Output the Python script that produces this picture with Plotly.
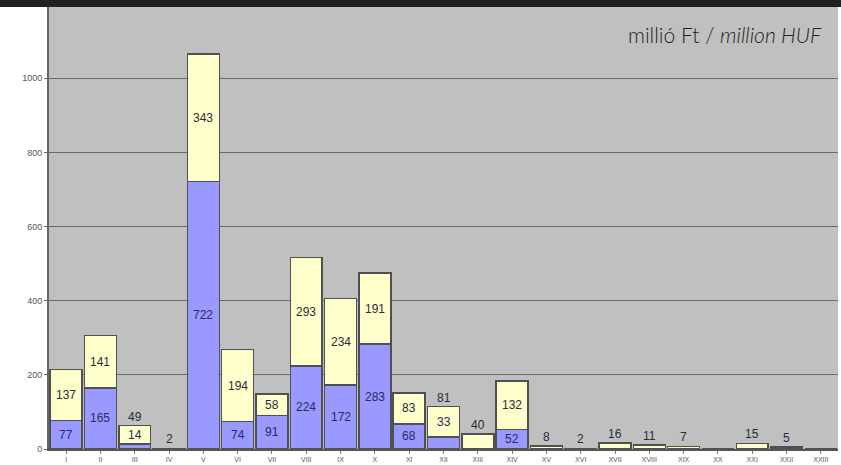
import plotly.graph_objects as go

categories = ["I", "II", "III", "IV", "V", "VI", "VII", "VIII", "IX", "X", "XI", "XII",
              "XIII", "XIV", "XV", "XVI", "XVII", "XVIII", "XIX", "XX", "XXI", "XXII", "XXIII"]
blue_vals = [77, 165, 14, 0, 722, 74, 91, 224, 172, 283, 68, 33, 0, 52, 0, 0, 0, 0, 0, 0, 0, 5, 0]
yellow_vals = [137, 141, 49, 2, 343, 194, 58, 293, 234, 191, 83, 81, 40, 132, 8, 2, 16, 11, 7, 0, 15, 0, 0]
y_ticks = [0, 200, 400, 600, 800, 1000]

BLUE = "#9999ff"
YELLOW = "#ffffcc"
EDGE = "#505050"

fig = go.Figure()
fig.add_trace(go.Bar(x=categories, y=blue_vals, marker=dict(color=BLUE, line=dict(color=EDGE, width=1.5)),
                     hoverinfo="x+y", name="blue"))
fig.add_trace(go.Bar(x=categories, y=yellow_vals, marker=dict(color=YELLOW, line=dict(color=EDGE, width=1.5)),
                     hoverinfo="x+y", name="yellow"))

lab_font = dict(family="Liberation Sans, Arial, sans-serif", size=12, color="#2b2b3a")
blue_font = dict(family="Liberation Sans, Arial, sans-serif", size=12, color="#2a2a60")
annotations = []
for c, b, yv in zip(categories, blue_vals, yellow_vals):
    total = b + yv
    blue_in_yellow = False
    if b >= 40:
        annotations.append(dict(x=c, y=b / 2, text=str(b), showarrow=False, font=blue_font))
    elif b > 0 and yv >= 40:
        annotations.append(dict(x=c, y=b + yv / 2, text=str(b), showarrow=False, font=blue_font))
        blue_in_yellow = True
    elif b > 0:
        annotations.append(dict(x=c, y=total, text=str(b), showarrow=False, font=lab_font,
                                yanchor="bottom", yshift=0))
    if yv > 0:
        if yv >= 50 and not blue_in_yellow:
            annotations.append(dict(x=c, y=b + yv / 2, text=str(yv), showarrow=False, font=lab_font))
        else:
            annotations.append(dict(x=c, y=total, text=str(yv), showarrow=False, font=lab_font,
                                    yanchor="bottom", yshift=0))

annotations.append(dict(xref="paper", yref="paper", x=0.982, y=0.937, xanchor="right", yanchor="middle",
                        text="millió Ft / <i>million HUF</i>", showarrow=False,
                        font=dict(family="Lato, Noto Sans, sans-serif", size=21, color="#231f20",
                                  weight=300)))

L, R, T, B = 49, 3, 7, 16
W, H = 841, 465
pw, ph = W - L - R, H - T - B

fig.update_layout(
    width=W, height=H,
    margin=dict(l=L, r=R, t=T, b=B, pad=0),
    barmode="stack", bargap=0.07,
    plot_bgcolor="#c0c0c0", paper_bgcolor="white",
    showlegend=False,
    annotations=annotations,
    shapes=[dict(type="rect", xref="paper", yref="paper", x0=-L / pw, x1=1 + R / pw,
                 y0=1, y1=1 + T / ph, fillcolor="#231f20", line=dict(width=0), layer="above")],
    xaxis=dict(type="category", showgrid=False, ticks="outside", ticklen=3, tickcolor="#777",
               tickfont=dict(family="Liberation Sans, Arial, sans-serif", size=7, color="#555"),
               showline=True, linecolor="#555", linewidth=1.5, zeroline=False),
    yaxis=dict(range=[0, 1192], tickvals=y_ticks, showgrid=True, gridcolor="#6a6a6a", gridwidth=1,
               ticks="outside", ticklen=3, tickcolor="#666",
               tickfont=dict(family="Liberation Sans, Arial, sans-serif", size=9, color="#555"),
               showline=True, linecolor="#666", linewidth=2, zeroline=False),
)

fig.write_html("out.html")
